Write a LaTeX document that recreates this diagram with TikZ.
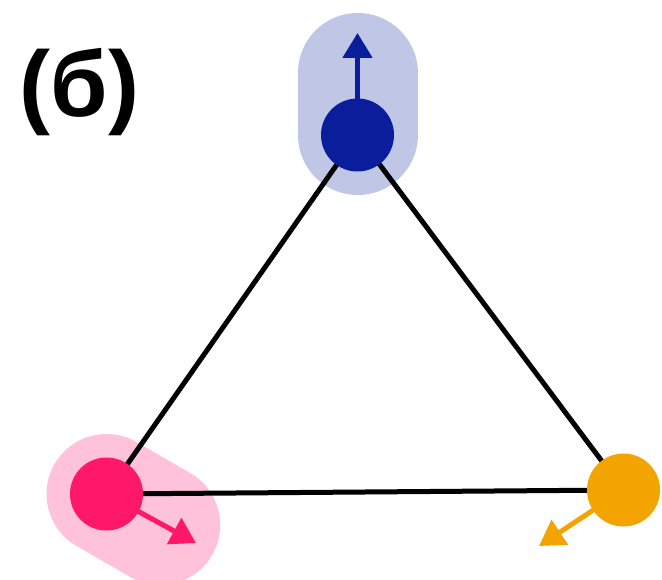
\documentclass[tikz,border=0pt]{standalone}
\usepackage{fontspec}
\newfontfamily\labelfont{Liberation Sans}
\usetikzlibrary{arrows.meta}
\definecolor{cblue}{RGB}{10,30,155}
\definecolor{cbluelight}{RGB}{192,198,230}
\definecolor{cpink}{RGB}{255,23,104}
\definecolor{cpinklight}{RGB}{255,194,216}
\definecolor{corange}{RGB}{244,164,0}
\tikzset{
  site/.style={circle, minimum size=73pt, inner sep=0pt, fill=#1},
  edge/.style={line width=5pt, black},
  spin/.style={line width=5pt, draw=#1, -{Triangle[length=25pt, width=29pt, fill=#1]}},
  halo/.style={line width=120pt, line cap=round, draw=#1},
}
\begin{document}
\begin{tikzpicture}[x=1pt, y=-1pt]
\useasboundingbox (0,0) rectangle (662,580);
\clip (0,0) rectangle (662,580);
% positions
\coordinate (Ap) at (357.5,135);
\coordinate (Bp) at (106.5,494);
\coordinate (Cp) at (623.5,490);
\coordinate (Aend) at (357.5,73);
\coordinate (Bend) at (160.2,525);
\coordinate (Atip) at (357.5,33);
\coordinate (Btip) at (196,543);
\coordinate (Ctip) at (539,546);
% halos
\draw[halo=cbluelight] (Ap) -- (Aend);
\draw[halo=cpinklight] (Bp) -- (Bend);
% edges
\draw[edge] (Ap) -- (Bp);
\draw[edge] (Ap) -- (Cp);
\draw[edge] (Bp) -- (Cp);
% spins
\draw[spin=cblue] (Ap) -- (Atip);
\draw[spin=cpink] (Bp) -- (Btip);
\draw[spin=corange] (Cp) -- (Ctip);
% sites
\node[site=cblue] (A) at (Ap) {};
\node[site=cpink] (B) at (Bp) {};
\node[site=corange] (C) at (Cp) {};
% label
\node[anchor=base west, inner sep=0pt, font=\labelfont\bfseries\fontsize{93}{100}\selectfont] (lbl) at (19.5,117) {(б)};
\end{tikzpicture}
\end{document}
